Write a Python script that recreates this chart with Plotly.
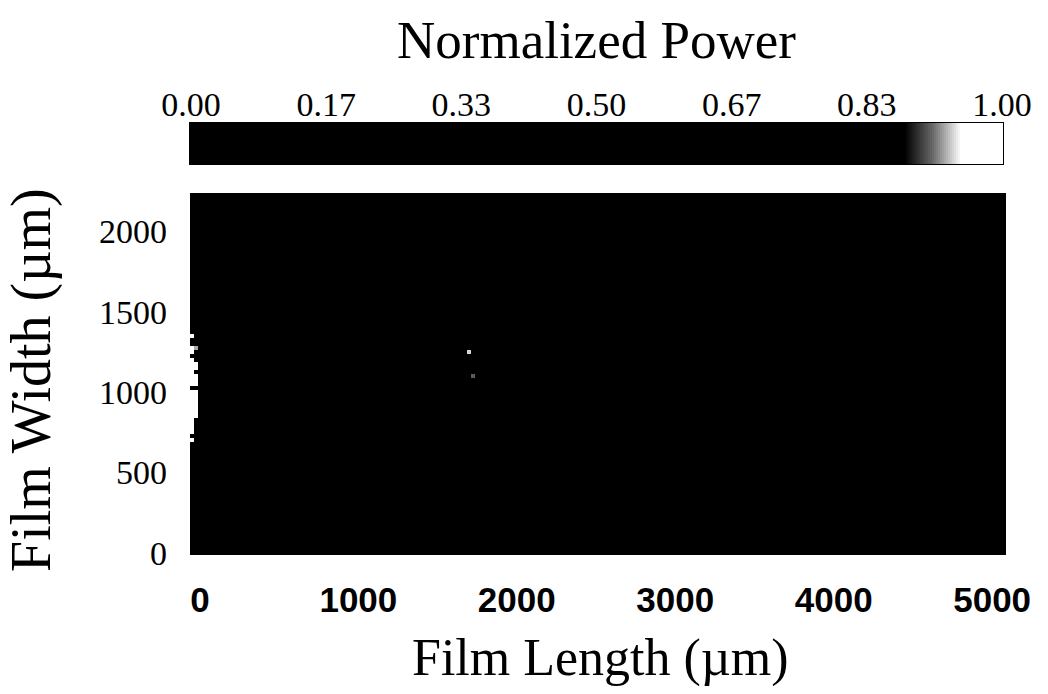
import numpy as np
import plotly.graph_objects as go

# Sampling grid of the film (cell centres, µm)
length_um = np.arange(-50, 5076, 25)      # film length axis
width_um = np.arange(0, 2226, 25)         # film width axis

# Bright cells of the normalized power map (all other cells are ~0)
hot_x = [-50, -50, -25, -50,
         -50, -50, -25, -50, -25, -50,
         -50, -25, -50, -25, -50, -25,
         -50, -25, -50, -25, -50, -25, -50, -25,
         -50, -25, -50, -25, -50, -25, -50,
         -50, -50, -50, -50,
         1700, 1725]
hot_y = [1350, 1275, 1275, 1250,
         1200, 1175, 1175, 1150, 1150, 1125,
         1100, 1100, 1075, 1075, 1050, 1050,
         1000, 1000, 975, 975, 950, 950, 925, 925,
         900, 900, 875, 875, 850, 850, 825,
         800, 775, 750, 700,
         1250, 1100]
hot_val = [0.97, 0.96, 0.93, 0.97,
           1.00, 1.00, 1.00, 1.00, 1.00, 1.00,
           1.00, 0.98, 1.00, 0.98, 1.00, 0.97,
           1.00, 1.00, 1.00, 1.00, 1.00, 1.00, 1.00, 0.98,
           1.00, 0.97, 1.00, 0.97, 1.00, 0.96, 1.00,
           1.00, 1.00, 0.98, 0.95,
           0.94, 0.91]

# Colour key ticks
cbar_vals = [0, 1/6, 2/6, 3/6, 4/6, 5/6, 1]
cbar_text = ["0.00", "0.17", "0.33", "0.50", "0.67", "0.83", "1.00"]

x_ticks = [0, 1000, 2000, 3000, 4000, 5000]
y_ticks = [0, 500, 1000, 1500, 2000]

power = np.zeros((len(width_um), len(length_um)))
for xv, yv, v in zip(hot_x, hot_y, hot_val):
    i = int(np.argmin(np.abs(width_um - yv)))
    j = int(np.argmin(np.abs(length_um - xv)))
    power[i, j] = v

gray_scale = [[0.0, "#000000"], [0.88, "#000000"], [0.915, "#6a6a6a"],
              [0.95, "#ffffff"], [1.0, "#ffffff"]]

# levels shown in the horizontal colour key
key_levels = np.linspace(0, 1, 401)

serif = "Liberation Serif, Times New Roman, serif"
sans = "Liberation Sans, Arial, sans-serif"

fig = go.Figure()
fig.add_trace(go.Heatmap(
    x=length_um, y=width_um, z=power,
    zmin=0, zmax=1, zsmooth=False,
    colorscale=gray_scale, showscale=False,
    xaxis="x", yaxis="y",
))
fig.add_trace(go.Heatmap(
    x=key_levels, y=[0], z=[key_levels],
    zmin=0, zmax=1, zsmooth=False,
    colorscale=gray_scale, showscale=False, hoverinfo="skip",
    xaxis="x2", yaxis="y2",
))

# paper area: x 190..1006 px, y 123..555 px
PW, PH = 816, 432

fig.update_layout(
    width=1048, height=694,
    margin=dict(l=190, r=42, t=123, b=139),
    paper_bgcolor="white", plot_bgcolor="white",
    showlegend=False,
    xaxis=dict(
        domain=[0, 1], anchor="y",
        range=[-62.5, 5087.5], tickvals=x_ticks,
        showgrid=False, zeroline=False, showline=False, ticks="",
        ticklabelstandoff=21,
        tickfont=dict(family=sans, size=35, color="black", weight="bold"),
    ),
    yaxis=dict(
        domain=[0, (555 - 193) / PH], anchor="x",
        range=[-12.5, 2237.5], tickvals=y_ticks,
        showgrid=False, zeroline=False, showline=False, ticks="",
        ticklabelstandoff=22,
        tickfont=dict(family=serif, size=34, color="black"),
    ),
    xaxis2=dict(
        domain=[0, (1003 - 190) / PW], anchor="y2", side="top",
        range=[-0.00125, 1.00125], tickvals=cbar_vals, ticktext=cbar_text,
        showgrid=False, zeroline=False, ticks="",
        showline=True, linecolor="black", linewidth=1, mirror=True,
        ticklabelstandoff=-8,
        tickfont=dict(family=serif, size=34, color="black"),
    ),
    yaxis2=dict(
        domain=[(555 - 164) / PH, 1], anchor="x2",
        range=[-0.5, 0.5], showticklabels=False,
        showgrid=False, zeroline=False, ticks="",
        showline=True, linecolor="black", linewidth=1, mirror=True,
    ),
    annotations=[
        dict(text="Normalized Power", xref="paper", yref="paper",
             x=(596 - 190) / PW, y=(555 - 40) / PH,
             xanchor="center", yanchor="middle", showarrow=False,
             font=dict(family=serif, size=53, color="black")),
        dict(text="Film Length (µm)", xref="paper", yref="paper",
             x=(600 - 190) / PW, y=(555 - 658) / PH,
             xanchor="center", yanchor="middle", showarrow=False,
             font=dict(family=serif, size=52, color="black")),
        dict(text="Film Width (µm)", xref="paper", yref="paper",
             x=(31 - 190) / PW, y=(555 - 380) / PH,
             xanchor="center", yanchor="middle", showarrow=False,
             textangle=-90,
             font=dict(family=serif, size=56, color="black")),
    ],
)

fig.write_html("out.html")
